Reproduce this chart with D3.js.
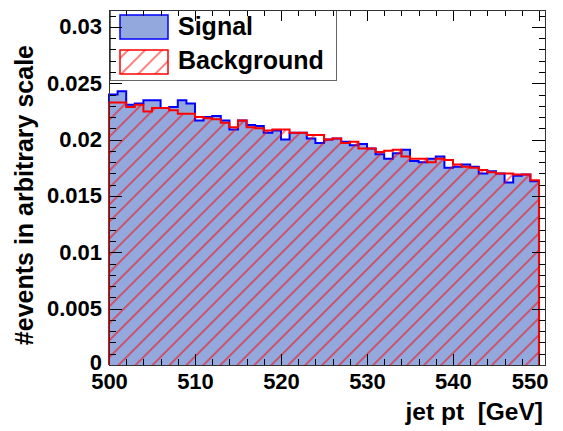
<!DOCTYPE html>
<html lang="en">
<head>
  <meta charset="utf-8">
  <script src="https://cdn.jsdelivr.net/npm/d3@7"></script>
  <style>
    body { margin: 0; background: #fff; }
    svg text { font-family: "Liberation Sans", Arial, Helvetica, sans-serif; font-weight: bold; fill: #000; }
    .axis path.domain { display: none; }
    .axis line { stroke: #000; stroke-width: 1px; shape-rendering: crispEdges; }
    .axis text { font-size: 22px; }
  </style>
</head>
<body>
<div id="chart"></div>
<script>
  // bin low edges, 1 GeV wide
  var binStarts = [500, 501, 502, 503, 504, 505, 506, 507, 508, 509,
    510, 511, 512, 513, 514, 515, 516, 517, 518, 519,
    520, 521, 522, 523, 524, 525, 526, 527, 528, 529,
    530, 531, 532, 533, 534, 535, 536, 537, 538, 539,
    540, 541, 542, 543, 544, 545, 546, 547, 548, 549];
  var binEnd = 550;

  var signal = [0.0240, 0.0243, 0.0231, 0.0232, 0.0235, 0.0235, 0.0228, 0.0229, 0.0235, 0.0232,
    0.0217, 0.0220, 0.0221, 0.0217, 0.0209, 0.0217, 0.0213, 0.0212, 0.0206, 0.0208,
    0.0200, 0.0206, 0.0206, 0.0201, 0.0197, 0.0200, 0.0201, 0.0198, 0.0195, 0.0196,
    0.0192, 0.0187, 0.0183, 0.0188, 0.0191, 0.0181, 0.0180, 0.0183, 0.0185, 0.0175,
    0.0176, 0.0178, 0.0176, 0.0170, 0.0172, 0.0170, 0.0162, 0.0168, 0.0169, 0.0163];

  var background = [0.0233, 0.0233, 0.0229, 0.0231, 0.0225, 0.0228, 0.0228, 0.0226, 0.0223, 0.0223,
    0.0220, 0.0219, 0.0218, 0.0215, 0.0211, 0.0217, 0.0211, 0.0210, 0.0208, 0.0209,
    0.0209, 0.0206, 0.0206, 0.0204, 0.0204, 0.0200, 0.0201, 0.0197, 0.0198, 0.0192,
    0.0192, 0.0189, 0.0190, 0.0191, 0.0185, 0.0183, 0.0183, 0.0180, 0.0183, 0.0182,
    0.0178, 0.0176, 0.0175, 0.0173, 0.0171, 0.0170, 0.0170, 0.0169, 0.0169, 0.0164];

  var xTicks = [500, 510, 520, 530, 540, 550];
  var yTicks = [0, 0.005, 0.01, 0.015, 0.02, 0.025, 0.03];
  var yTickLabels = ['0', '0.005', '0.01', '0.015', '0.02', '0.025', '0.03'];
  var seriesNames = ['Signal', 'Background'];

  var width = 563, height = 431;
  var frame = { left: 109, right: 545, top: 10, bottom: 365 };

  var svg = d3.select('#chart').append('svg')
    .attr('width', width)
    .attr('height', height);

  var defs = svg.append('defs');

  // red 45 degree hatch
  var hatch = defs.append('pattern')
    .attr('id', 'hatch')
    .attr('patternUnits', 'userSpaceOnUse')
    .attr('width', 12)
    .attr('height', 12)
    .attr('patternTransform', 'rotate(45)');
  hatch.append('line')
    .attr('x1', 6).attr('y1', -2)
    .attr('x2', 6).attr('y2', 14)
    .attr('stroke', '#ff0000')
    .attr('stroke-width', 1);

  var xScale = d3.scaleLinear()
    .domain([500, 550.7])
    .range([frame.left, frame.right]);

  var yScale = d3.scaleLinear()
    .domain([0, 0.0315])
    .range([frame.bottom, frame.top]);

  function histData(values) {
    var pts = binStarts.map(function(b, i) { return [b, values[i]]; });
    pts.push([binEnd, values[values.length - 1]]);
    return pts;
  }

  var area = d3.area()
    .curve(d3.curveStepAfter)
    .x(function(d) { return xScale(d[0]); })
    .y0(yScale(0))
    .y1(function(d) { return yScale(d[1]); });

  function outline(values) {
    var pts = [[binStarts[0], 0]].concat(histData(values));
    pts.push([binEnd, 0]);
    var p = 'M' + xScale(pts[0][0]) + ',' + yScale(0);
    for (var i = 1; i < pts.length; i++) {
      var prev = pts[i - 1], cur = pts[i];
      if (i > 1 && i < pts.length - 1) p += 'L' + xScale(cur[0]) + ',' + yScale(prev[1]);
      p += 'L' + xScale(cur[0]) + ',' + yScale(cur[1]);
    }
    return p;
  }

  // frame background
  svg.append('rect')
    .attr('x', frame.left).attr('y', frame.top)
    .attr('width', frame.right - frame.left)
    .attr('height', frame.bottom - frame.top)
    .attr('fill', '#fff');

  // signal
  svg.append('path')
    .attr('d', area(histData(signal)))
    .attr('fill', '#93a8dc');
  svg.append('path')
    .attr('d', outline(signal))
    .attr('fill', 'none')
    .attr('stroke', '#0000ff')
    .attr('stroke-width', 2);

  // background
  svg.append('path')
    .attr('d', area(histData(background)))
    .attr('fill', 'url(#hatch)');
  svg.append('path')
    .attr('d', outline(background))
    .attr('fill', 'none')
    .attr('stroke', '#ff0000')
    .attr('stroke-width', 2);

  // legend
  var legend = svg.append('g');
  legend.append('rect')
    .attr('x', 110.5).attr('y', 10.5)
    .attr('width', 226).attr('height', 70)
    .attr('fill', '#fff')
    .attr('stroke', '#666');
  legend.append('rect')
    .attr('x', 120).attr('y', 15).attr('width', 48).attr('height', 24)
    .attr('fill', '#93a8dc').attr('stroke', '#0000ff').attr('stroke-width', 1.5);
  legend.append('rect')
    .attr('x', 120).attr('y', 50).attr('width', 48).attr('height', 24)
    .attr('fill', 'url(#hatch)').attr('stroke', '#ff0000').attr('stroke-width', 1.5);
  legend.selectAll('text.lab')
    .data(seriesNames)
    .enter()
    .append('text')
    .attr('class', 'lab')
    .attr('x', 178)
    .attr('y', function(d, i) { return 35 + i * 34; })
    .style('font-size', '25px')
    .text(function(d) { return d; });

  // axes: minor ticks
  var xMinor = [];
  var yMinor = [];
  binStarts.forEach(function(b) { if (b % 2 === 0 && b % 10 !== 0) xMinor.push(b); });
  for (var k = 1; k <= 31; k++) if (k % 5 !== 0) yMinor.push(k / 1000);

  function addAxis(axis, tx, ty) {
    return svg.append('g')
      .attr('class', 'axis')
      .attr('transform', 'translate(' + tx + ',' + ty + ')')
      .call(axis);
  }

  // bottom
  var bottom = addAxis(d3.axisBottom(xScale).tickValues(xTicks).tickSize(-11).tickPadding(8)
    .tickFormat(d3.format('d')), 0, frame.bottom);
  bottom.selectAll('text')
    .filter(function(d) { return d === 550; })
    .attr('text-anchor', 'end')
    .attr('dx', 9);
  addAxis(d3.axisBottom(xScale).tickValues(xMinor).tickSize(-6).tickFormat(''), 0, frame.bottom);
  // top
  addAxis(d3.axisTop(xScale).tickValues(xTicks).tickSize(-11).tickFormat(''), 0, frame.top);
  addAxis(d3.axisTop(xScale).tickValues(xMinor).tickSize(-6).tickFormat(''), 0, frame.top);
  // left
  var left = addAxis(d3.axisLeft(yScale).tickValues(yTicks).tickSize(-13).tickPadding(7)
    .tickFormat(function(d, i) { return yTickLabels[i]; }), frame.left, 0);
  left.selectAll('text')
    .filter(function(d) { return d === 0; })
    .attr('dy', '0.2em');
  addAxis(d3.axisLeft(yScale).tickValues(yMinor).tickSize(-6.5).tickFormat(''), frame.left, 0);
  // right
  addAxis(d3.axisRight(yScale).tickValues(yTicks).tickSize(-13).tickFormat(''), frame.right, 0);
  addAxis(d3.axisRight(yScale).tickValues(yMinor).tickSize(-6.5).tickFormat(''), frame.right, 0);

  // frame
  svg.append('rect')
    .attr('x', frame.left + 0.5).attr('y', frame.top + 0.5)
    .attr('width', frame.right - frame.left)
    .attr('height', frame.bottom - frame.top)
    .attr('fill', 'none')
    .attr('stroke', '#333');

  // titles
  svg.append('text')
    .attr('x', 543)
    .attr('y', 420)
    .attr('text-anchor', 'end')
    .style('font-size', '24.5px')
    .style('white-space', 'pre')
    .text('jet pt  [GeV]');

  svg.append('text')
    .attr('transform', 'translate(33,45) rotate(-90)')
    .attr('text-anchor', 'end')
    .style('font-size', '25px')
    .text('#events in arbitrary scale');
</script>
</body>
</html>
